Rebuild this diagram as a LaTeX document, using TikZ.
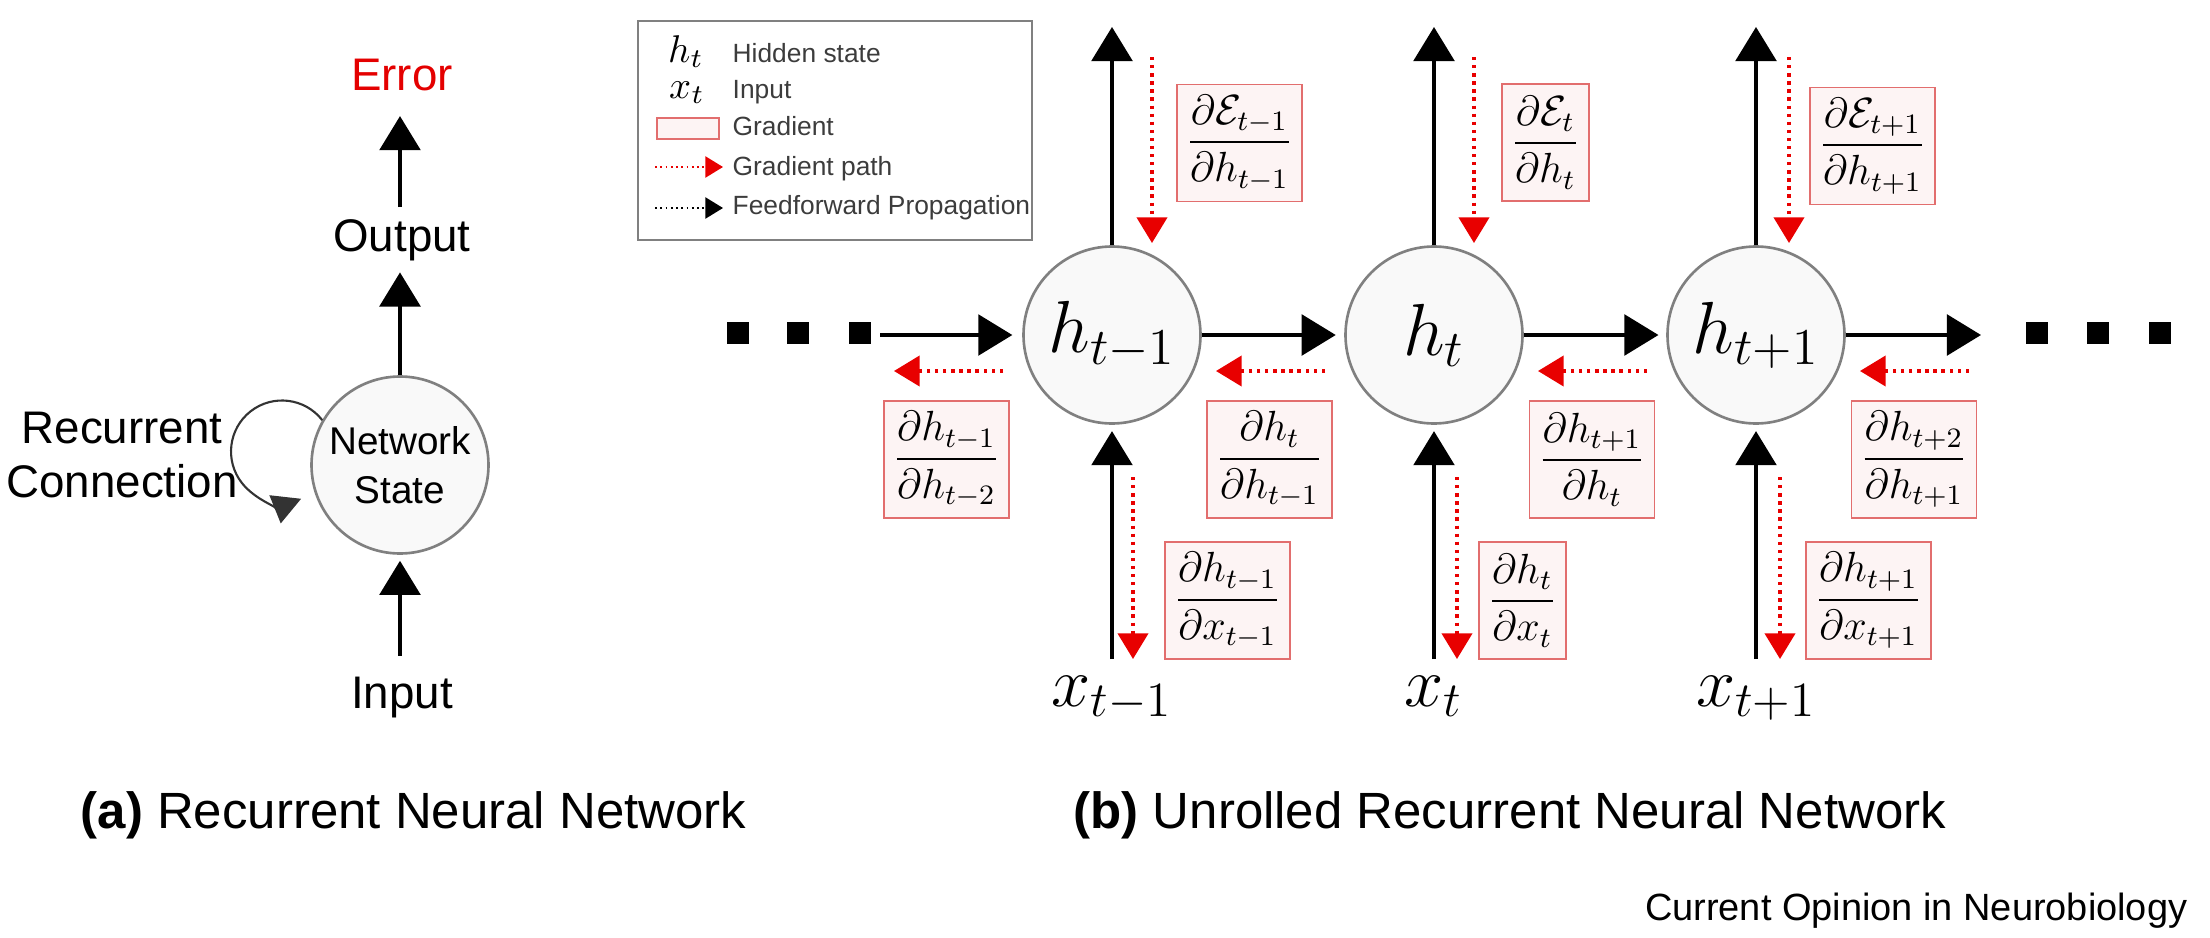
\RequirePackage{fix-cm}
\documentclass[tikz,border=0pt]{standalone}
\usepackage{amsmath}
\usepackage{fontspec}
\setmainfont{Liberation Sans}
\usetikzlibrary{arrows.meta}

\definecolor{errorred}{RGB}{228,0,0}
\definecolor{gradline}{RGB}{232,0,0}
\definecolor{gradedge}{RGB}{226,110,110}
\definecolor{gradfill}{RGB}{253,244,244}
\definecolor{rimgray}{RGB}{128,128,128}
\definecolor{legendgray}{RGB}{60,60,60}
\newcommand{\setfs}[2]{\fontsize{#1}{#2}\selectfont}

\begin{document}
\begin{tikzpicture}[>={Triangle[length=9.7pt,width=11.6pt]},
    ff/.style={->, line width=0.95pt},
    grad/.style={-{Triangle[length=7.3pt,width=8.6pt]}, gradline, line width=0.95pt,
        dash pattern=on 0.95pt off 1.35pt},
    legarrow/.style={-{Triangle[length=5pt,width=6pt]}, line width=0.5pt,
        dash pattern=on 0.5pt off 1pt},
    state/.style={circle, draw=rimgray, line width=0.75pt, fill=gray!5,
        minimum size=1.77cm, inner sep=0pt},
    gbox/.style={draw=gradedge, line width=0.45pt, fill=gradfill, minimum height=1.17cm,
        inner xsep=2.6pt, inner ysep=0pt, font=\setfs{12}{14}},
    word/.style={font=\setfs{13}{15.6}, inner sep=3.2pt},
    xlabel/.style={anchor=base, inner sep=4.5pt, font=\setfs{20}{24}},
    legtext/.style={anchor=base west, inner sep=0pt, text=legendgray, font=\setfs{7.5}{9}},
    legsym/.style={anchor=base, inner sep=0pt, font=\setfs{11}{13}},
    caption/.style={inner sep=0pt, font=\setfs{14.5}{17}}]
    \useasboundingbox (0,0) rectangle (22.10,-9.38);

    \node[state, align=center, font=\setfs{11}{13.8}] (ns) at (4.00,-4.65) {Network\\State};
    \node[word, anchor=base] (out) at (4.02,-2.51) {Output};
    \node[word, anchor=base, text=errorred] (err) at (4.02,-0.90) {Error};
    \node[word, anchor=base] (inp) at (4.02,-7.08) {Input};
    \node[word, align=center] (rec) at (1.22,-4.55) {Recurrent\\Connection};
    \draw[ff] (ns.north) -- (ns.north |- out.south);
    \draw[ff, shorten >=3.9pt] (ns.north |- out.north) -- (ns.north |- err.south);
    \draw[ff, shorten <=2.5pt, shorten >=1.7pt] (ns.north |- inp.north) -- (ns.south);
    \draw[-{Triangle[length=8pt,width=8.5pt]}, line width=0.6pt, black!80]
        (ns.150) arc[start angle=38, end angle=292, radius=0.51];

    \foreach \i/\x/\lab in {1/11.12/{t-1}, 2/14.34/t, 3/17.56/{t+1}} {
        \node[state, font=\setfs{21}{25}] (h\i) at (\x,-3.35) {$h_{\lab}$};
        \node[xlabel] (x\i) at (\x,-7.06) {$x_{\lab}$};
        \coordinate (e\i) at (\x,-0.27);
        \draw[ff] (h\i) -- (e\i);
        \draw[ff, shorten >=1.8pt] (x\i) -- (h\i);
    }
    \coordinate (lin) at (8.80,-3.35);
    \coordinate (rout) at (19.81,-3.35);
    \draw[ff, shorten >=2.8pt] (lin) -- (h1);
    \draw[ff, shorten >=2.4pt] (h1) -- (h2);
    \draw[ff, shorten >=2.2pt] (h2) -- (h3);
    \draw[ff] (h3) -- (rout);
    \foreach \x in {7.38,7.98,8.60,20.37,20.98,21.60}
        \fill (\x-0.11,-3.22) rectangle ++(0.22,-0.22);

    \foreach \i/\dx in {1/-1.09, 2/-1.09, 3/-1.09, 3/2.13}
        \draw[grad] ([shift={(\dx,-0.36)}]h\i.center) -- ++(-1.09,0);
    \foreach \i/\dx in {1/0.40, 2/0.40, 3/0.33}
        \draw[grad] ([shift={(\dx,2.78)}]h\i.center) -- ++(0,-1.86);
    \foreach \i/\dx in {1/0.21, 2/0.23, 3/0.24}
        \draw[grad] ([shift={(\dx,-1.42)}]h\i.center) -- ++(0,-1.82);

    \node[gbox, anchor=west] (gE1) at (11.76,-1.43) {$\dfrac{\partial\mathcal{E}_{t-1}}{\partial h_{t-1}}$};
    \node[gbox, anchor=west] (gE2) at (15.01,-1.425) {$\dfrac{\partial\mathcal{E}_{t}}{\partial h_{t}}$};
    \node[gbox, anchor=west] (gE3) at (18.09,-1.46) {$\dfrac{\partial\mathcal{E}_{t+1}}{\partial h_{t+1}}$};
    \node[gbox] (gh1) at (9.465,-4.595) {$\dfrac{\partial h_{t-1}}{\partial h_{t-2}}$};
    \node[gbox] (gh2) at (12.695,-4.595) {$\dfrac{\partial h_{t}}{\partial h_{t-1}}$};
    \node[gbox] (gh3) at (15.92,-4.595) {$\dfrac{\partial h_{t+1}}{\partial h_{t}}$};
    \node[gbox] (gh4) at (19.14,-4.595) {$\dfrac{\partial h_{t+2}}{\partial h_{t+1}}$};
    \node[gbox, anchor=west] (gx1) at (11.64,-6.005) {$\dfrac{\partial h_{t-1}}{\partial x_{t-1}}$};
    \node[gbox, anchor=west] (gx2) at (14.78,-6.005) {$\dfrac{\partial h_{t}}{\partial x_{t}}$};
    \node[gbox, anchor=west] (gx3) at (18.05,-6.005) {$\dfrac{\partial h_{t+1}}{\partial x_{t+1}}$};

    \draw[rimgray, line width=0.6pt] (6.38,-0.21) rectangle (10.32,-2.40);
    \node[legsym] (lh) at (6.86,-0.62) {$h_t$};
    \node[legsym] (lx) at (6.87,-0.98) {$x_t$};
    \draw[draw=gradedge, fill=gradfill, line width=0.45pt] (6.57,-1.18) rectangle (7.19,-1.39);
    \draw[legarrow, gradline] (6.55,-1.67) -- (7.23,-1.67);
    \draw[legarrow] (6.55,-2.08) -- (7.23,-2.08);
    \node[legtext] (lt1) at (7.32,-0.62) {Hidden state};
    \node[legtext] (lt2) at (7.32,-0.98) {Input};
    \node[legtext] (lt3) at (7.32,-1.35) {Gradient};
    \node[legtext] (lt4) at (7.32,-1.75) {Gradient path};
    \node[legtext] (lt5) at (7.32,-2.15) {Feedforward Propagation};

    \node[caption, anchor=base east] (capa) at (7.47,-8.28) {\textbf{(a)} Recurrent Neural Network};
    \node[caption, anchor=base west] (capb) at (10.73,-8.28) {\textbf{(b)} Unrolled Recurrent Neural Network};
    \node[anchor=base east, inner sep=0pt, font=\setfs{10.8}{13}] (journal) at (21.88,-9.20)
        {Current Opinion in Neurobiology};
\end{tikzpicture}
\end{document}
